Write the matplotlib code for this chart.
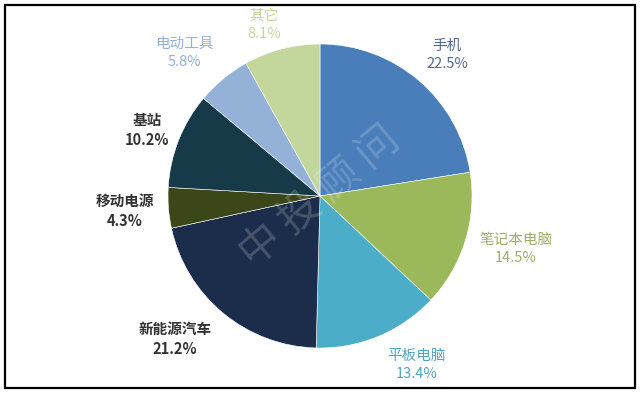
import matplotlib
matplotlib.use("Agg")
import matplotlib.pyplot as plt
from matplotlib.patches import Rectangle

plt.rcParams['font.family'] = ['Noto Sans CJK SC', 'DejaVu Sans']

categories = ['手机', '笔记本电脑', '平板电脑', '新能源汽车', '移动电源', '基站', '电动工具', '其它']
values = [22.5, 14.5, 13.4, 21.2, 4.3, 10.2, 5.8, 8.1]

colors = ['#4a7ebb', '#9bb95a', '#4badc8', '#1c2d4b', '#3b4619', '#163a48', '#94b2d8', '#c3d69b']
label_colors = ['#52698c', '#a2ad68', '#4ea5bf', '#333333', '#333333', '#333333', '#94b2d8', '#c3d69b']
label_weights = ['normal', 'normal', 'normal', 'bold', 'bold', 'bold', 'normal', 'normal']
# label centre positions in pixels (x, y from top)
label_pos = [(447, 55), (516, 249), (417, 365), (175, 339), (125, 211), (147, 130), (184, 53), (264, 25)]

W, H = 640, 393
fig = plt.figure(figsize=(W / 100, H / 100), dpi=100)

cx, cy, r = 320, 196, 152
ax = fig.add_axes([(cx - r) / W, (H - cy - r) / H, 2 * r / W, 2 * r / H])
ax.pie(values, colors=colors, startangle=90, counterclock=False,
       wedgeprops=dict(edgecolor='white', linewidth=0.4))
ax.set_aspect('equal')
ax.set_xlim(-1, 1)
ax.set_ylim(-1, 1)
ax.axis('off')

for cat, v, (px, py), c, w in zip(categories, values, label_pos, label_colors, label_weights):
    fig.text(px / W, 1 - py / H, f"{cat}\n{v:.1f}%", ha='center', va='center',
             color=c, fontsize=10.5, fontweight=w, linespacing=1.35)

# watermark
fig.text(0.5, 0.5, '中 投 顾 问', rotation=40, ha='center', va='center',
         fontsize=30, color='white', alpha=0.18)

# frame
fig.patches.append(Rectangle((5 / W, 5 / H), 630 / W, 383 / H, transform=fig.transFigure,
                             fill=False, edgecolor='black', linewidth=1.6))

fig.savefig('out.png', dpi=100)
